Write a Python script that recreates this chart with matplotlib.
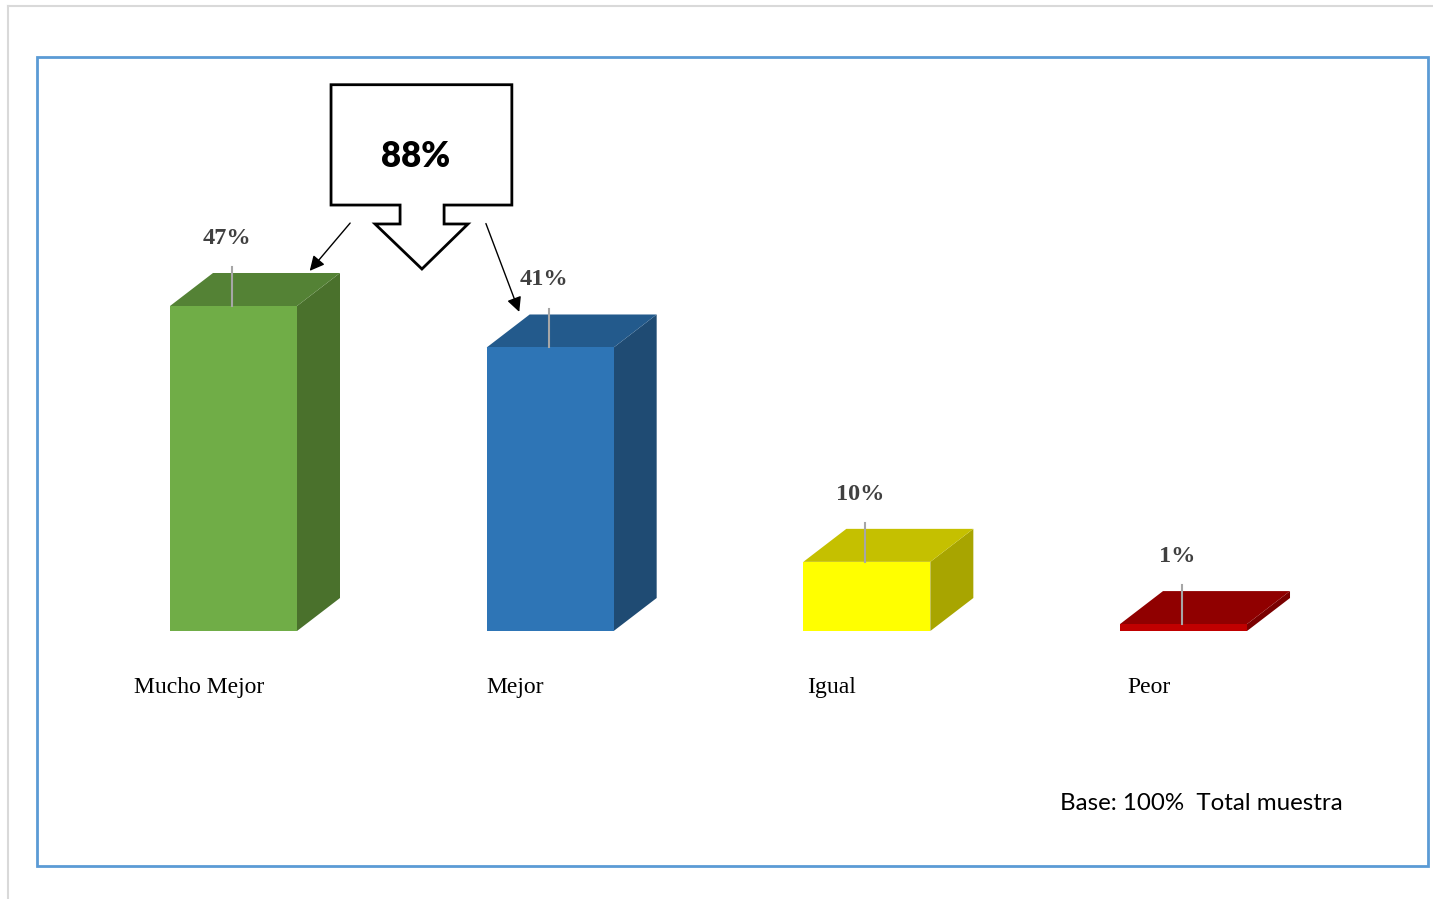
import matplotlib.pyplot as plt
from matplotlib.patches import Polygon, Rectangle

categories = ["Mucho Mejor", "Mejor", "Igual", "Peor"]
values = [47, 41, 10, 1]
value_labels = ["47%", "41%", "10%", "1%"]
front_colors = ["#70AD47", "#2E75B6", "#FFFF00", "#C00000"]
top_colors = ["#548235", "#235A8C", "#C5C000", "#900000"]
side_colors = ["#4A712C", "#1F4B73", "#A8A500", "#7A0000"]
callout_text = "88%"
base_note = "Base: 100%  Total muestra"

W, H = 1433, 899
fig = plt.figure(figsize=(W / 100, H / 100), dpi=100)
ax = fig.add_axes([0, 0, 1, 1])

# one category step = 316.67 px, one percent = 6.915 px, baseline at y=631 px
step, unit = 316.67, 6.915
ax.set_xlim(-233.5 / step, (W - 233.5) / step)
ax.set_ylim(-(H - 631) / unit, 631 / unit)
ax.axis("off")

bw = 127 / step   # front face width
dx = 43 / step    # depth offset
dy = 33 / unit

for i, v in enumerate(values):
    x0, x1 = i - bw / 2, i + bw / 2
    ax.add_patch(Polygon([(x1, 0), (x1 + dx, dy), (x1 + dx, v + dy), (x1, v)],
                         closed=True, facecolor=side_colors[i], edgecolor="none"))
    ax.add_patch(Polygon([(x0, v), (x1, v), (x1 + dx, v + dy), (x0 + dx, v + dy)],
                         closed=True, facecolor=top_colors[i], edgecolor="none"))
    ax.add_patch(Rectangle((x0, 0), bw, v, facecolor=front_colors[i], edgecolor="none"))
    # leader line and value label
    ax.plot([i - 0.005, i - 0.005], [v, v + 5.6], color="#A6A6A6", lw=1.5)
    ax.text(i - 0.02, v + 9.8, value_labels[i], ha="center", va="center",
            fontsize=17.5, fontweight="bold", family="Liberation Serif", color="#404040")
    ax.text(i - 0.11, -8.2, categories[i], ha="center", va="center",
            fontsize=17, family="Liberation Serif", color="black")

# callout arrow box
box = [(0.308, 79.0), (0.879, 79.0), (0.879, 61.6), (0.665, 61.6), (0.665, 58.86),
       (0.7405, 58.86), (0.595, 52.35), (0.447, 58.86), (0.526, 58.86),
       (0.526, 61.6), (0.308, 61.6)]
ax.add_patch(Polygon(box, closed=True, facecolor="white", edgecolor="black", lw=2))
ax.text(0.576, 68.6, callout_text, ha="center", va="center", fontsize=25,
        fontweight="heavy", family="Lato", color="black")

arrow = dict(arrowstyle="-|>", color="black", lw=1, mutation_scale=22)
ax.annotate("", xy=(0.235, values[0] + dy), xytext=(0.374, 59.3), arrowprops=arrow)
ax.annotate("", xy=(1 - bw / 2 + 0.106, values[1] + dy), xytext=(0.794, 59.3),
            arrowprops=arrow)

ax.text(1060 / W, 1 - 803 / H, base_note, transform=fig.transFigure, ha="left",
        va="center", fontsize=17.4, family="Lato", color="black")

# chart frame and page edges
fig.add_artist(Rectangle((37 / W, 1 - 866 / H), (1428 - 37) / W, (866 - 57) / H,
                         transform=fig.transFigure, fill=False, edgecolor="#5B9BD5", lw=2))
fig.add_artist(plt.Line2D([8 / W, 8 / W], [0, 1 - 6 / H], transform=fig.transFigure,
                          color="#D9D9D9", lw=1.5))
fig.add_artist(plt.Line2D([8 / W, 1], [1 - 6 / H, 1 - 6 / H], transform=fig.transFigure,
                          color="#D9D9D9", lw=1.5))

fig.savefig("out.png", dpi=100)
